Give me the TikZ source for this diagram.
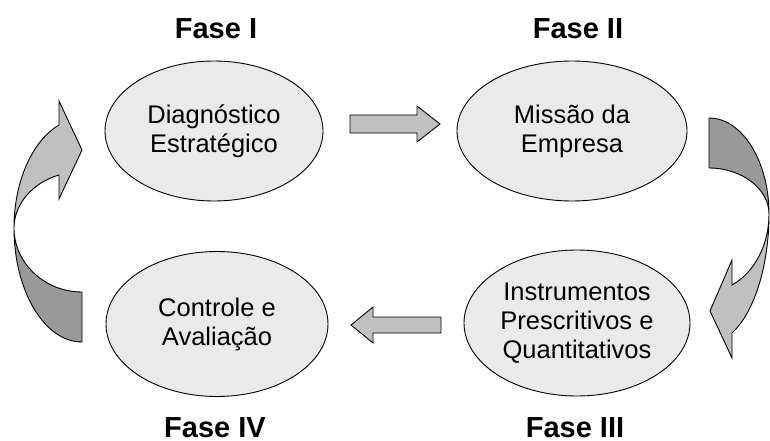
\documentclass[tikz,border=0pt]{standalone}
\usepackage{fontspec}
\setmainfont{Liberation Sans}
\usetikzlibrary{shapes.geometric}

\definecolor{elipsecinza}{HTML}{EAEAEA}
\definecolor{setaclara}{HTML}{C0C0C0}
\definecolor{setaescura}{HTML}{999999}

\begin{document}
\begin{tikzpicture}[
  x = 1pt, y = -1pt,
  fase/.style = {ellipse, draw, line width=0.9pt, fill=elipsecinza,
    minimum width=218pt, minimum height=140pt, inner sep=0pt,
    align=center, font=\fontsize{25.5}{29}\selectfont},
  titulo/.style = {anchor=base, inner sep=0pt, font=\fontsize{29}{32}\selectfont\bfseries},
  seta/.style = {draw, line width=0.9pt, fill=setaclara},
  setafundo/.style = {draw, line width=0.9pt, fill=setaescura},
  ]
  \useasboundingbox (0,0) rectangle (770,441);

  \node[fase] (diag) at (214,131) {Diagnóstico\\Estratégico};
  \node[fase, minimum width=230pt] (missao) at (572,131) {Missão da\\Empresa};
  \node[fase, minimum width=226pt, minimum height=146pt] (instr) at (577,323)
    {Instrumentos\\Prescritivos e\\Quantitativos};
  \node[fase, minimum width=222pt, minimum height=145pt] (contr) at (217,324)
    {Controle e\\Avaliação};

  \node[titulo] (f1) at (216,39) {Fase I};
  \node[titulo] (f2) at (578,39) {Fase II};
  \node[titulo] (f3) at (575,437) {Fase III};
  \node[titulo] (f4) at (215,437) {Fase IV};

  % setas retas
  \draw[seta] (350,115) -- (417,115) -- (417,106) -- (440,124) -- (417,142)
    -- (417,133) -- (350,133) -- cycle;
  \draw[seta] (441,317) -- (373,317) -- (373,307) -- (351,325) -- (373,343)
    -- (373,333) -- (441,333) -- cycle;

  % seta curva da esquerda
  \draw[setafundo] (82,342) .. controls (44.5,342) and (14,291) .. (14,228)
    .. controls (14,263) and (44.5,292) .. (82,292) -- cycle;
  \draw[seta] (14,228) .. controls (14,182) and (32,141) .. (59,125)
    -- (59,101) -- (82,150) -- (59,199) -- (59,175)
    .. controls (32,183) and (14,204.5) .. (14,228) -- cycle;

  % seta curva da direita
  \draw[setafundo] (709,118) .. controls (742,118) and (769,161) .. (769,214)
    .. controls (769,189) and (742,168) .. (709,168) -- cycle;
  \draw[seta] (769,214) .. controls (769,266) and (754,313) .. (732,333)
    -- (732,358) -- (710,311) -- (732,260) -- (732,285)
    .. controls (754,273) and (769,245) .. (769,214) -- cycle;
\end{tikzpicture}
\end{document}
